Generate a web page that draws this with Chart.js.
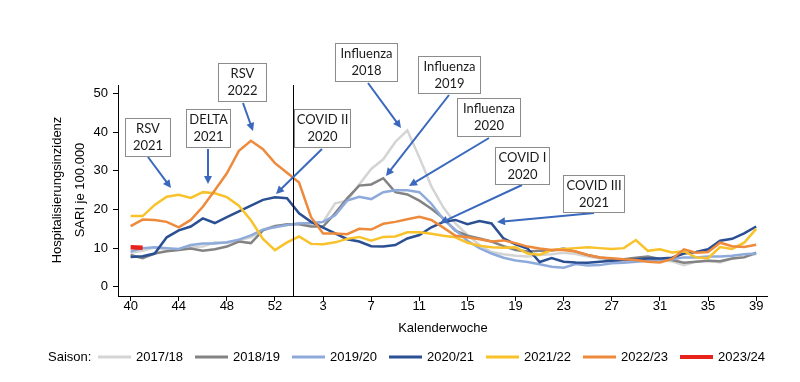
<!DOCTYPE html>
<html><head><meta charset="utf-8">
<script src="https://cdn.jsdelivr.net/npm/chart.js@4/dist/chart.umd.min.js"></script>
<style>html,body{margin:0;padding:0;background:#fff}canvas{display:block}</style>
</head><body>
<canvas id="c" width="800" height="382" style="width:800px;height:382px"></canvas>
<script>
const weeks = [40,41,42,43,44,45,46,47,48,49,50,51,52,53,1,2,3,4,5,6,7,8,9,10,11,12,13,14,15,16,17,18,19,20,21,22,23,24,25,26,27,28,29,30,31,32,33,34,35,36,37,38,39];
const tickWeeks = [40,44,48,52,3,7,11,15,19,23,27,31,35,39];
const yTicks = [0,10,20,30,40,50];
const seasonNames = ['2017/18','2018/19','2019/20','2020/21','2021/22','2022/23','2023/24'];
const seasonColors = ['#d4d4d4','#838383','#8eaadb','#2a4f93','#f9c22b','#ee8a3c','#e8231b'];

const s2017 = [8.8,9.3,10.2,9.5,9.8,10.3,10.4,11.5,11.3,12.0,12.8,14.8,15.8,16.0,16.5,16.3,16.8,21.6,22.3,26.5,30.5,33.0,37.5,40.5,33.5,26.0,20.5,16.4,13.4,10.8,9.0,8.4,8.0,7.8,8.2,8.4,8.8,8.5,7.8,7.4,7.0,6.9,7.1,7.5,6.8,6.6,5.6,6.5,6.8,6.3,7.3,7.8,8.5];
const s2018 = [8.2,7.4,8.6,9.2,9.5,9.9,9.3,9.7,10.4,11.7,11.3,14.6,15.7,16.2,16.2,15.6,15.6,19.0,22.9,26.2,26.5,28.1,24.5,23.9,22.3,20.2,17.7,14.5,13.2,12.5,11.7,10.5,9.5,9.1,9.3,9.4,9.9,9.1,8.2,7.6,7.2,7.1,7.5,7.8,7.2,6.9,6.2,6.5,6.7,6.6,7.3,7.6,8.8];
const s2019 = [9.1,10.0,10.2,10.0,9.8,10.8,11.2,11.2,11.5,12.2,13.3,14.8,15.4,16.0,16.4,16.5,16.8,18.5,22.3,23.3,22.7,24.5,25.0,25.0,24.5,21.5,17.5,14.7,11.9,10.0,8.6,7.5,6.8,6.4,5.8,5.2,4.9,5.9,5.5,5.6,6.1,6.2,6.5,6.7,6.9,7.1,7.6,7.6,7.8,7.8,8.0,8.4,8.6];
const s2020 = [7.7,7.9,8.6,12.8,14.6,15.6,17.7,16.5,18.0,19.5,21.0,22.5,23.2,22.9,19.0,16.8,15.3,13.8,12.3,11.7,10.5,10.4,10.8,12.5,13.4,15.4,16.8,17.3,16.2,17.0,16.4,12.5,11.0,9.9,6.4,7.4,6.5,6.3,6.2,6.5,6.7,6.9,7.1,7.3,7.3,7.5,8.6,9.0,9.7,11.9,12.4,13.8,15.6];
const s2021 = [18.3,18.3,21.2,23.3,23.8,23.0,24.5,24.2,23.2,21.0,17.2,12.4,9.5,11.5,13.0,11.1,11.0,11.5,12.4,12.9,11.9,12.9,13.0,14.1,14.1,13.7,13.2,12.8,11.4,10.6,10.2,10.1,10.2,8.6,8.3,9.5,9.8,10.0,10.2,10.0,9.8,10.0,12.1,9.3,9.7,8.9,9.2,7.6,7.4,10.3,9.8,11.4,15.0];
const s2022 = [15.7,17.4,17.3,16.8,15.4,17.3,20.7,25.0,29.4,35.2,37.8,35.6,32.0,29.5,27.0,18.0,13.8,13.8,13.6,15.0,14.8,16.3,16.8,17.5,18.1,17.3,15.3,13.2,12.8,12.3,11.7,12.0,11.3,10.4,9.9,9.5,9.5,9.1,8.2,7.6,7.4,7.1,6.9,6.5,6.3,7.2,9.7,8.8,9.0,11.4,10.5,10.3,10.9];
const s2023 = [10.2,10.1];
const seriesList = [s2017,s2018,s2019,s2020,s2021,s2022,s2023];

const notes = [
  {t:['RSV','2021'], box:[125,118,171,157], a:[148,157,171,188]},
  {t:['DELTA','2021'], box:[186,109,231,148], a:[208,149,208,184]},
  {t:['RSV','2022'], box:[218,63,267,102], a:[243,103,253,131]},
  {t:['COVID II','2020'], box:[294,109,351,148], a:[322,149,276,194]},
  {t:['Influenza','2018'], box:[335,43,398,82], a:[368,83,401,128]},
  {t:['Influenza','2019'], box:[418,56,481,94], a:[449,95,386,176]},
  {t:['Influenza','2020'], box:[457,98,521,137], a:[489,138,409,186]},
  {t:['COVID I','2020'], box:[495,147,550,185], a:[522,185,440,223]},
  {t:['COVID III','2021'], box:[563,175,625,213], a:[594,213,497,222]}
];

const FONT = '"Liberation Sans", Arial, sans-serif';

const overlay = {
  id:'overlay',
  afterDatasetsDraw(chart){
    const ctx = chart.ctx, ca = chart.chartArea, xs = chart.scales.x;
    ctx.save();
    const bx = Math.round(xs.getPixelForValue(13.5)) + 0.5;
    ctx.strokeStyle = '#000'; ctx.lineWidth = 1;
    ctx.beginPath(); ctx.moveTo(bx, ca.top); ctx.lineTo(bx, ca.bottom); ctx.stroke();
    notes.forEach(n=>{
      const [x1,y1,x2,y2] = n.a;
      ctx.strokeStyle = '#3a68bd'; ctx.fillStyle = '#3a68bd'; ctx.lineWidth = 2;
      const ang = Math.atan2(y2-y1, x2-x1);
      const hl = 8, hw = 4;
      const ex = x2 - Math.cos(ang)*hl*0.8, ey = y2 - Math.sin(ang)*hl*0.8;
      ctx.beginPath(); ctx.moveTo(x1,y1); ctx.lineTo(ex,ey); ctx.stroke();
      ctx.beginPath();
      ctx.moveTo(x2,y2);
      ctx.lineTo(x2 - Math.cos(ang)*hl + Math.sin(ang)*hw, y2 - Math.sin(ang)*hl - Math.cos(ang)*hw);
      ctx.lineTo(x2 - Math.cos(ang)*hl - Math.sin(ang)*hw, y2 - Math.sin(ang)*hl + Math.cos(ang)*hw);
      ctx.closePath(); ctx.fill();
      const [bx1,by1,bx2,by2] = n.box;
      ctx.fillStyle = '#fff'; ctx.fillRect(bx1,by1,bx2-bx1,by2-by1);
      ctx.strokeStyle = '#8c8c8c'; ctx.lineWidth = 1;
      ctx.strokeRect(bx1+0.5,by1+0.5,bx2-bx1-1,by2-by1-1);
      ctx.fillStyle = '#1a1a1a'; ctx.font = '13px Lato, "Open Sans", sans-serif';
      ctx.textAlign = 'center'; ctx.textBaseline = 'middle';
      const cx = (bx1+bx2)/2, cy = (by1+by2)/2;
      ctx.fillText(n.t[0], cx, cy-8.5);
      ctx.fillText(n.t[1], cx, cy+8.5);
    });
    ctx.restore();
  },
  afterDraw(chart){
    const ctx = chart.ctx;
    ctx.save();
    ctx.fillStyle = '#000'; ctx.font = '13px ' + FONT;
    ctx.textAlign = 'center'; ctx.textBaseline = 'middle';
    ctx.fillText('Kalenderwoche', 443, 328);
    ctx.save(); ctx.translate(57,190); ctx.rotate(-Math.PI/2);
    ctx.fillText('Hospitalisierungsinzidenz', 0, 0); ctx.restore();
    ctx.save(); ctx.translate(80,190); ctx.rotate(-Math.PI/2);
    ctx.fillText('SARI je 100.000', 0, 0); ctx.restore();
    ctx.textAlign = 'left';
    ctx.fillText('Saison:', 48, 357);
    seasonNames.forEach((nm,k)=>{
      const sx = 98 + 97*k;
      ctx.strokeStyle = seasonColors[k];
      ctx.lineWidth = k===6 ? 4 : 3;
      ctx.beginPath(); ctx.moveTo(sx,357); ctx.lineTo(sx+33,357); ctx.stroke();
      ctx.fillStyle = '#000';
      ctx.fillText(nm, sx+38, 357);
    });
    ctx.restore();
  }
};

const datasets = seasonNames.map((nm,k)=>({
  label: nm,
  data: seriesList[k].map((v,i)=>({x:i, y:v})),
  borderColor: seasonColors[k],
  backgroundColor: seasonColors[k],
  borderWidth: k===6 ? 4.5 : 2.5,
  pointRadius: 0,
  tension: 0,
  fill: false,
  order: 7-k
}));

const tickFont = {family: FONT, size: 13};

new Chart(document.getElementById('c'), {
  type: 'line',
  data: {datasets},
  options: {
    responsive: false, animation: false, devicePixelRatio: 1,
    layout: {padding: {left: 0, right: 33, top: 85, bottom: 56}},
    plugins: {legend: {display: false}, tooltip: {enabled: false}},
    scales: {
      x: {
        type: 'linear', min: -1.05, max: 52.9,
        afterBuildTicks: s => { s.ticks = tickWeeks.map(w => ({value: weeks.indexOf(w)})); },
        ticks: {callback: v => weeks[v], font: tickFont, color: '#000', padding: -2, maxRotation: 0, autoSkip: false},
        grid: {display: true, drawOnChartArea: false, drawTicks: true, tickLength: 5, color: '#000'},
        border: {display: true, color: '#000', width: 1},
        afterFit: s => { s.height = 30; }
      },
      y: {
        min: -2.4, max: 52.25,
        afterBuildTicks: s => { s.ticks = yTicks.map(v => ({value: v})); },
        ticks: {font: tickFont, color: '#000', padding: 5},
        grid: {display: true, drawOnChartArea: false, drawTicks: true, tickLength: 5, color: '#000'},
        border: {display: true, color: '#000', width: 1},
        afterFit: s => { s.width = 118; }
      }
    }
  },
  plugins: [overlay]
});
</script>
</body></html>
